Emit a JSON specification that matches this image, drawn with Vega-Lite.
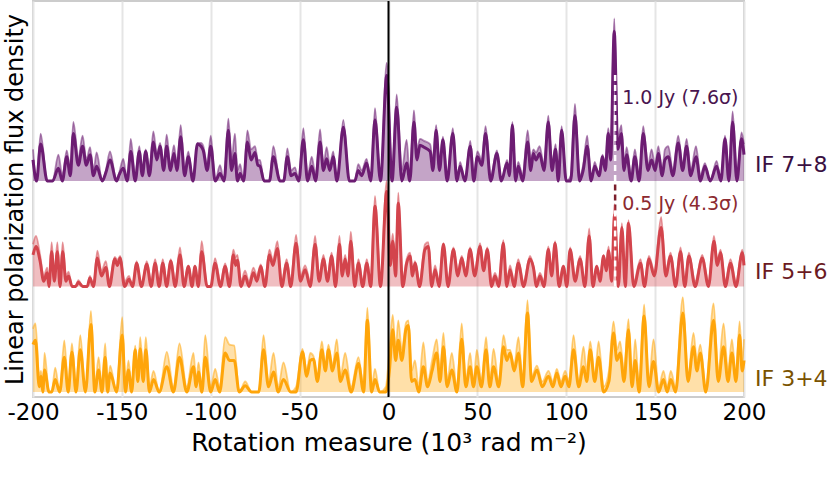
{
  "$schema": "https://vega.github.io/schema/vega-lite/v6.json",
  "width": 711,
  "height": 396,
  "autosize": {"type": "none"},
  "padding": {"left": 33, "top": 1, "right": 85, "bottom": 97},
  "data": {
    "values": [
      {"s":"p","x":-200,"v":0.2,"u":0.3},{"s":"p","x":-198,"v":0,"u":0},{"s":"p","x":-195.7,"v":0.35,"u":0.45},{"s":"p","x":-192,"v":0,"u":0},{"s":"p","x":-189,"v":0,"u":0},{"s":"p","x":-185.7,"v":0.12,"u":0.25},{"s":"p","x":-183.5,"v":0,"u":0.05},{"s":"p","x":-181,"v":0.23,"u":0.29},{"s":"p","x":-179,"v":0.05,"u":0.1},{"s":"p","x":-177.3,"v":0.45,"u":0.56},{"s":"p","x":-174.5,"v":0.15,"u":0.22},{"s":"p","x":-172.1,"v":0.33,"u":0.43},{"s":"p","x":-170,"v":0.15,"u":0.2},{"s":"p","x":-167.9,"v":0.25,"u":0.32},{"s":"p","x":-166,"v":0.05,"u":0.1},{"s":"p","x":-164.2,"v":0.14,"u":0.27},{"s":"p","x":-161,"v":0,"u":0},{"s":"p","x":-159,"v":0.08,"u":0.1},{"s":"p","x":-156.7,"v":0.2,"u":0.28},{"s":"p","x":-153,"v":0,"u":0},{"s":"p","x":-151.5,"v":0.06,"u":0.08},{"s":"p","x":-149.2,"v":0.12,"u":0.21},{"s":"p","x":-147,"v":0,"u":0},{"s":"p","x":-145,"v":0.28,"u":0.4},{"s":"p","x":-142.5,"v":0,"u":0.05},{"s":"p","x":-140.2,"v":0.28,"u":0.33},{"s":"p","x":-138.5,"v":0.05,"u":0.1},{"s":"p","x":-136.6,"v":0.28,"u":0.3},{"s":"p","x":-134.5,"v":0.05,"u":0.1},{"s":"p","x":-132.3,"v":0.37,"u":0.47},{"s":"p","x":-130.3,"v":0.2,"u":0.25},{"s":"p","x":-128.5,"v":0.33,"u":0.36},{"s":"p","x":-126.5,"v":0.1,"u":0.15},{"s":"p","x":-124.8,"v":0.33,"u":0.44},{"s":"p","x":-122.7,"v":0.1,"u":0.15},{"s":"p","x":-120.7,"v":0.26,"u":0.34},{"s":"p","x":-119,"v":0.1,"u":0.15},{"s":"p","x":-116.9,"v":0.42,"u":0.53},{"s":"p","x":-114.7,"v":0.05,"u":0.1},{"s":"p","x":-112.6,"v":0.23,"u":0.28},{"s":"p","x":-110,"v":0,"u":0},{"s":"p","x":-107.5,"v":0.35,"u":0.36},{"s":"p","x":-105.5,"v":0.33,"u":0.36},{"s":"p","x":-104.2,"v":0.29,"u":0.33},{"s":"p","x":-102,"v":0.1,"u":0.15},{"s":"p","x":-100,"v":0.33,"u":0.43},{"s":"p","x":-97.5,"v":0,"u":0},{"s":"p","x":-94.8,"v":0.07,"u":0.15},{"s":"p","x":-92.5,"v":0,"u":0},{"s":"p","x":-90.1,"v":0.48,"u":0.59},{"s":"p","x":-88.3,"v":0.1,"u":0.2},{"s":"p","x":-86.4,"v":0.26,"u":0.45},{"s":"p","x":-85,"v":0,"u":0.1},{"s":"p","x":-83.5,"v":0.07,"u":0.16},{"s":"p","x":-81.5,"v":0,"u":0},{"s":"p","x":-79.4,"v":0.37,"u":0.48},{"s":"p","x":-77.3,"v":0.2,"u":0.3},{"s":"p","x":-75.1,"v":0.27,"u":0.33},{"s":"p","x":-73.5,"v":0.15,"u":0.2},{"s":"p","x":-72.3,"v":0.14,"u":0.2},{"s":"p","x":-70,"v":0,"u":0},{"s":"p","x":-67,"v":0,"u":0},{"s":"p","x":-64.8,"v":0.23,"u":0.33},{"s":"p","x":-61,"v":0,"u":0},{"s":"p","x":-59,"v":0,"u":0},{"s":"p","x":-56.9,"v":0.23,"u":0.31},{"s":"p","x":-54.8,"v":0.05,"u":0.1},{"s":"p","x":-52.6,"v":0.07,"u":0.13},{"s":"p","x":-50.5,"v":0,"u":0},{"s":"p","x":-47.9,"v":0.39,"u":0.5},{"s":"p","x":-45.5,"v":0,"u":0.05},{"s":"p","x":-43.2,"v":0.14,"u":0.23},{"s":"p","x":-41,"v":0,"u":0.05},{"s":"p","x":-38.5,"v":0.37,"u":0.49},{"s":"p","x":-36.6,"v":0.1,"u":0.15},{"s":"p","x":-34.8,"v":0.21,"u":0.32},{"s":"p","x":-33,"v":0.1,"u":0.15},{"s":"p","x":-31.1,"v":0.23,"u":0.28},{"s":"p","x":-29,"v":0,"u":0},{"s":"p","x":-25.4,"v":0.51,"u":0.58},{"s":"p","x":-22,"v":0,"u":0},{"s":"p","x":-19,"v":0,"u":0},{"s":"p","x":-17,"v":0.1,"u":0.16},{"s":"p","x":-15.1,"v":0.05,"u":0.1},{"s":"p","x":-12.3,"v":0.17,"u":0.21},{"s":"p","x":-10,"v":0,"u":0},{"s":"p","x":-7.6,"v":0.58,"u":0.69},{"s":"p","x":-4.5,"v":0,"u":0},{"s":"p","x":-1,"v":1.0,"u":1.12},{"s":"p","x":2,"v":0,"u":0.05},{"s":"p","x":4.6,"v":0.7,"u":0.82},{"s":"p","x":7.5,"v":0,"u":0.1},{"s":"p","x":10.2,"v":0.17,"u":0.39},{"s":"p","x":12,"v":0,"u":0.05},{"s":"p","x":14.3,"v":0.56,"u":0.67},{"s":"p","x":16,"v":0.2,"u":0.3},{"s":"p","x":17.7,"v":0.34,"u":0.4},{"s":"p","x":20,"v":0.32,"u":0.38},{"s":"p","x":23.4,"v":0.28,"u":0.35},{"s":"p","x":25,"v":0.1,"u":0.2},{"s":"p","x":26.8,"v":0.48,"u":0.53},{"s":"p","x":28.7,"v":0.1,"u":0.15},{"s":"p","x":30.6,"v":0.39,"u":0.42},{"s":"p","x":33,"v":0,"u":0.05},{"s":"p","x":36.2,"v":0.45,"u":0.5},{"s":"p","x":38.5,"v":0,"u":0},{"s":"p","x":40.3,"v":0.14,"u":0.18},{"s":"p","x":43,"v":0,"u":0},{"s":"p","x":46,"v":0.33,"u":0.38},{"s":"p","x":48,"v":0,"u":0.05},{"s":"p","x":50,"v":0.23,"u":0.28},{"s":"p","x":52.5,"v":0.15,"u":0.2},{"s":"p","x":54.6,"v":0.45,"u":0.52},{"s":"p","x":57.5,"v":0,"u":0.05},{"s":"p","x":61,"v":0.26,"u":0.29},{"s":"p","x":63.5,"v":0,"u":0},{"s":"p","x":66.7,"v":0.17,"u":0.2},{"s":"p","x":68,"v":0.05,"u":0.1},{"s":"p","x":69.7,"v":0.53,"u":0.56},{"s":"p","x":71.5,"v":0,"u":0.05},{"s":"p","x":73,"v":0.14,"u":0.18},{"s":"p","x":75.5,"v":0,"u":0.05},{"s":"p","x":78.3,"v":0.37,"u":0.48},{"s":"p","x":80,"v":0.1,"u":0.2},{"s":"p","x":81.5,"v":0.26,"u":0.3},{"s":"p","x":83,"v":0.2,"u":0.27},{"s":"p","x":85,"v":0.26,"u":0.33},{"s":"p","x":87.5,"v":0.1,"u":0.15},{"s":"p","x":89.9,"v":0.56,"u":0.62},{"s":"p","x":92,"v":0.1,"u":0.15},{"s":"p","x":94,"v":0.3,"u":0.35},{"s":"p","x":95.5,"v":0,"u":0.05},{"s":"p","x":97.4,"v":0.48,"u":0.52},{"s":"p","x":100,"v":0,"u":0},{"s":"p","x":102.5,"v":0,"u":0.05},{"s":"p","x":104.9,"v":0.62,"u":0.73},{"s":"p","x":107.5,"v":0,"u":0.05},{"s":"p","x":109.5,"v":0.1,"u":0.15},{"s":"p","x":111.8,"v":0.33,"u":0.43},{"s":"p","x":114,"v":0,"u":0},{"s":"p","x":116,"v":0.14,"u":0.18},{"s":"p","x":118.5,"v":0.05,"u":0.05},{"s":"p","x":120.4,"v":0.23,"u":0.25},{"s":"p","x":122,"v":0.1,"u":0.15},{"s":"p","x":123.6,"v":0.45,"u":0.5},{"s":"p","x":125,"v":0.2,"u":0.3},{"s":"p","x":127,"v":1.42,"u":1.54},{"s":"p","x":129,"v":0.3,"u":0.4},{"s":"p","x":131,"v":0.45,"u":0.53},{"s":"p","x":132.5,"v":0.1,"u":0.15},{"s":"p","x":134,"v":0.25,"u":0.32},{"s":"p","x":136.5,"v":0,"u":0.05},{"s":"p","x":138.6,"v":0.23,"u":0.3},{"s":"p","x":141,"v":0,"u":0.05},{"s":"p","x":143.3,"v":0.45,"u":0.52},{"s":"p","x":146,"v":0.1,"u":0.15},{"s":"p","x":148,"v":0.2,"u":0.3},{"s":"p","x":150,"v":0.1,"u":0.15},{"s":"p","x":151.8,"v":0.26,"u":0.33},{"s":"p","x":154,"v":0.05,"u":0.1},{"s":"p","x":155.5,"v":0.2,"u":0.3},{"s":"p","x":157.4,"v":0.23,"u":0.33},{"s":"p","x":160,"v":0.05,"u":0.1},{"s":"p","x":163,"v":0.36,"u":0.43},{"s":"p","x":165.5,"v":0.1,"u":0.15},{"s":"p","x":167.7,"v":0.33,"u":0.4},{"s":"p","x":170,"v":0.05,"u":0.1},{"s":"p","x":173,"v":0.23,"u":0.33},{"s":"p","x":175.5,"v":0,"u":0.05},{"s":"p","x":178,"v":0.14,"u":0.17},{"s":"p","x":181,"v":0,"u":0},{"s":"p","x":184.6,"v":0.14,"u":0.19},{"s":"p","x":187,"v":0,"u":0},{"s":"p","x":189.3,"v":0.4,"u":0.43},{"s":"p","x":191.5,"v":0,"u":0.1},{"s":"p","x":193.6,"v":0.56,"u":0.66},{"s":"p","x":196,"v":0,"u":0.05},{"s":"p","x":198.6,"v":0.4,"u":0.46},{"s":"p","x":200,"v":0.25,"u":0.35},

      {"s":"r","x":-200,"v":0.3,"u":0.4},{"s":"r","x":-198.3,"v":0.38,"u":0.48},{"s":"r","x":-196,"v":0.24,"u":0.3},{"s":"r","x":-194,"v":0.05,"u":0.1},{"s":"r","x":-192,"v":0.13,"u":0.18},{"s":"r","x":-191,"v":0,"u":0.05},{"s":"r","x":-189.5,"v":0.33,"u":0.42},{"s":"r","x":-188,"v":0.05,"u":0.1},{"s":"r","x":-186.3,"v":0.33,"u":0.42},{"s":"r","x":-184.8,"v":0,"u":0.05},{"s":"r","x":-183.3,"v":0.33,"u":0.42},{"s":"r","x":-181.5,"v":0.05,"u":0.1},{"s":"r","x":-180,"v":0.1,"u":0.14},{"s":"r","x":-178,"v":0,"u":0},{"s":"r","x":-176,"v":0,"u":0},{"s":"r","x":-174.5,"v":0.04,"u":0.06},{"s":"r","x":-172,"v":0,"u":0},{"s":"r","x":-169.5,"v":0,"u":0},{"s":"r","x":-168,"v":0.08,"u":0.1},{"s":"r","x":-166,"v":0,"u":0},{"s":"r","x":-163.8,"v":0.27,"u":0.34},{"s":"r","x":-161.5,"v":0.1,"u":0.15},{"s":"r","x":-159,"v":0.18,"u":0.24},{"s":"r","x":-157,"v":0,"u":0.05},{"s":"r","x":-154,"v":0.26,"u":0.28},{"s":"r","x":-152.5,"v":0.2,"u":0.25},{"s":"r","x":-151,"v":0.27,"u":0.29},{"s":"r","x":-148.5,"v":0,"u":0.05},{"s":"r","x":-146,"v":0.07,"u":0.1},{"s":"r","x":-144,"v":0,"u":0},{"s":"r","x":-141.7,"v":0.22,"u":0.24},{"s":"r","x":-139,"v":0,"u":0},{"s":"r","x":-136,"v":0.21,"u":0.24},{"s":"r","x":-133.5,"v":0,"u":0.05},{"s":"r","x":-131.3,"v":0.22,"u":0.26},{"s":"r","x":-129,"v":0,"u":0.05},{"s":"r","x":-127,"v":0.22,"u":0.26},{"s":"r","x":-124.8,"v":0,"u":0.05},{"s":"r","x":-122.5,"v":0.24,"u":0.26},{"s":"r","x":-120,"v":0,"u":0.05},{"s":"r","x":-117.3,"v":0.3,"u":0.37},{"s":"r","x":-115,"v":0,"u":0.05},{"s":"r","x":-112.6,"v":0.19,"u":0.2},{"s":"r","x":-110.5,"v":0,"u":0.05},{"s":"r","x":-108.9,"v":0.19,"u":0.2},{"s":"r","x":-107,"v":0,"u":0.05},{"s":"r","x":-105.1,"v":0.33,"u":0.43},{"s":"r","x":-102,"v":0,"u":0},{"s":"r","x":-100,"v":0,"u":0},{"s":"r","x":-97.6,"v":0.22,"u":0.27},{"s":"r","x":-94.5,"v":0,"u":0.05},{"s":"r","x":-91.9,"v":0.19,"u":0.22},{"s":"r","x":-89.5,"v":0,"u":0.05},{"s":"r","x":-87.3,"v":0.3,"u":0.35},{"s":"r","x":-86,"v":0.2,"u":0.28},{"s":"r","x":-85,"v":0.25,"u":0.3},{"s":"r","x":-83,"v":0,"u":0.05},{"s":"r","x":-80.7,"v":0.1,"u":0.15},{"s":"r","x":-78.5,"v":0,"u":0.05},{"s":"r","x":-76,"v":0.13,"u":0.18},{"s":"r","x":-74,"v":0.05,"u":0.1},{"s":"r","x":-71.9,"v":0.19,"u":0.21},{"s":"r","x":-69.5,"v":0,"u":0.05},{"s":"r","x":-67,"v":0.3,"u":0.35},{"s":"r","x":-65,"v":0.2,"u":0.25},{"s":"r","x":-62.5,"v":0.36,"u":0.43},{"s":"r","x":-60,"v":0,"u":0.05},{"s":"r","x":-57.3,"v":0.22,"u":0.26},{"s":"r","x":-55,"v":0,"u":0.05},{"s":"r","x":-52,"v":0.41,"u":0.49},{"s":"r","x":-49.5,"v":0.05,"u":0.1},{"s":"r","x":-46.9,"v":0.16,"u":0.2},{"s":"r","x":-44,"v":0,"u":0.05},{"s":"r","x":-41.3,"v":0.4,"u":0.48},{"s":"r","x":-39,"v":0.05,"u":0.1},{"s":"r","x":-36.6,"v":0.26,"u":0.3},{"s":"r","x":-34.3,"v":0.05,"u":0.1},{"s":"r","x":-32,"v":0.29,"u":0.32},{"s":"r","x":-29.8,"v":0,"u":0.05},{"s":"r","x":-27.6,"v":0.4,"u":0.48},{"s":"r","x":-26,"v":0.1,"u":0.15},{"s":"r","x":-24.4,"v":0.26,"u":0.3},{"s":"r","x":-22.8,"v":0.1,"u":0.15},{"s":"r","x":-21.2,"v":0.43,"u":0.52},{"s":"r","x":-19,"v":0,"u":0.05},{"s":"r","x":-16.9,"v":0.22,"u":0.26},{"s":"r","x":-14.5,"v":0,"u":0.05},{"s":"r","x":-12.2,"v":0.22,"u":0.26},{"s":"r","x":-10,"v":0,"u":0.05},{"s":"r","x":-7.6,"v":0.76,"u":0.86},{"s":"r","x":-4.5,"v":0,"u":0.05},{"s":"r","x":-1,"v":0.9,"u":1.0},{"s":"r","x":1,"v":0.2,"u":0.3},{"s":"r","x":2.4,"v":0.43,"u":0.5},{"s":"r","x":4,"v":0.1,"u":0.2},{"s":"r","x":5.5,"v":0.79,"u":0.89},{"s":"r","x":8,"v":0,"u":0.05},{"s":"r","x":10.2,"v":0.22,"u":0.26},{"s":"r","x":12.1,"v":0.29,"u":0.32},{"s":"r","x":13.5,"v":0.1,"u":0.15},{"s":"r","x":14.9,"v":0.22,"u":0.24},{"s":"r","x":17.5,"v":0,"u":0.05},{"s":"r","x":20.5,"v":0.35,"u":0.4},{"s":"r","x":22.4,"v":0.38,"u":0.42},{"s":"r","x":24.3,"v":0,"u":0.05},{"s":"r","x":26.2,"v":0.16,"u":0.2},{"s":"r","x":28.5,"v":0,"u":0.05},{"s":"r","x":30.9,"v":0.4,"u":0.41},{"s":"r","x":33.5,"v":0,"u":0.05},{"s":"r","x":36.5,"v":0.35,"u":0.37},{"s":"r","x":39,"v":0.1,"u":0.15},{"s":"r","x":41.2,"v":0.27,"u":0.29},{"s":"r","x":43.5,"v":0.1,"u":0.15},{"s":"r","x":45.9,"v":0.35,"u":0.37},{"s":"r","x":48.5,"v":0.1,"u":0.15},{"s":"r","x":51.5,"v":0.38,"u":0.41},{"s":"r","x":53.5,"v":0.15,"u":0.2},{"s":"r","x":55.6,"v":0.35,"u":0.37},{"s":"r","x":58,"v":0,"u":0.05},{"s":"r","x":59.9,"v":0.1,"u":0.13},{"s":"r","x":62,"v":0,"u":0.05},{"s":"r","x":64.6,"v":0.41,"u":0.44},{"s":"r","x":66.5,"v":0,"u":0.05},{"s":"r","x":68.4,"v":0.16,"u":0.2},{"s":"r","x":70.7,"v":0,"u":0.05},{"s":"r","x":73,"v":0.22,"u":0.26},{"s":"r","x":76,"v":0,"u":0.05},{"s":"r","x":79.6,"v":0.26,"u":0.29},{"s":"r","x":81.5,"v":0.18,"u":0.2},{"s":"r","x":83.3,"v":0,"u":0.05},{"s":"r","x":85.2,"v":0.1,"u":0.13},{"s":"r","x":87.5,"v":0,"u":0.05},{"s":"r","x":89.9,"v":0.35,"u":0.38},{"s":"r","x":91.8,"v":0.1,"u":0.15},{"s":"r","x":93.7,"v":0.41,"u":0.43},{"s":"r","x":96,"v":0,"u":0.05},{"s":"r","x":98.4,"v":0.19,"u":0.2},{"s":"r","x":100.3,"v":0,"u":0.05},{"s":"r","x":102.2,"v":0.35,"u":0.37},{"s":"r","x":105,"v":0.05,"u":0.1},{"s":"r","x":107.8,"v":0.26,"u":0.29},{"s":"r","x":110.5,"v":0,"u":0.05},{"s":"r","x":112.9,"v":0.48,"u":0.55},{"s":"r","x":115,"v":0,"u":0.05},{"s":"r","x":117.2,"v":0.19,"u":0.2},{"s":"r","x":119,"v":0.05,"u":0.1},{"s":"r","x":121,"v":0.29,"u":0.3},{"s":"r","x":122.5,"v":0.15,"u":0.2},{"s":"r","x":123.8,"v":0.34,"u":0.38},{"s":"r","x":125.5,"v":0.05,"u":0.1},{"s":"r","x":127.2,"v":0.68,"u":0.78},{"s":"r","x":129.3,"v":0,"u":0.05},{"s":"r","x":131.3,"v":0.56,"u":0.6},{"s":"r","x":133.2,"v":0,"u":0.05},{"s":"r","x":135,"v":0.6,"u":0.63},{"s":"r","x":138,"v":0,"u":0.05},{"s":"r","x":141.8,"v":0.22,"u":0.26},{"s":"r","x":144,"v":0,"u":0.05},{"s":"r","x":146.5,"v":0.26,"u":0.29},{"s":"r","x":149.5,"v":0.1,"u":0.15},{"s":"r","x":153.4,"v":0.56,"u":0.66},{"s":"r","x":156,"v":0.1,"u":0.15},{"s":"r","x":158.7,"v":0.29,"u":0.32},{"s":"r","x":161.5,"v":0,"u":0.05},{"s":"r","x":164.3,"v":0.33,"u":0.37},{"s":"r","x":166.7,"v":0,"u":0.05},{"s":"r","x":169,"v":0.29,"u":0.32},{"s":"r","x":172.5,"v":0,"u":0.05},{"s":"r","x":176.5,"v":0.27,"u":0.3},{"s":"r","x":180,"v":0,"u":0.05},{"s":"r","x":183.1,"v":0.43,"u":0.48},{"s":"r","x":185,"v":0.2,"u":0.25},{"s":"r","x":186.8,"v":0.32,"u":0.35},{"s":"r","x":189.5,"v":0,"u":0.05},{"s":"r","x":192.4,"v":0.22,"u":0.26},{"s":"r","x":195.5,"v":0,"u":0.05},{"s":"r","x":199,"v":0.32,"u":0.35},{"s":"r","x":200,"v":0.2,"u":0.25},

      {"s":"o","x":-200,"v":0.45,"u":0.6},{"s":"o","x":-198.6,"v":0.49,"u":0.65},{"s":"o","x":-196.5,"v":0.05,"u":0.15},{"s":"o","x":-195.5,"v":0.15,"u":0.2},{"s":"o","x":-194.5,"v":0,"u":0.05},{"s":"o","x":-193.5,"v":0.21,"u":0.37},{"s":"o","x":-191,"v":0,"u":0},{"s":"o","x":-189.5,"v":0,"u":0},{"s":"o","x":-187.5,"v":0.12,"u":0.23},{"s":"o","x":-185,"v":0,"u":0},{"s":"o","x":-182.4,"v":0.33,"u":0.49},{"s":"o","x":-180.2,"v":0,"u":0.05},{"s":"o","x":-178.1,"v":0.38,"u":0.46},{"s":"o","x":-175.8,"v":0,"u":0.05},{"s":"o","x":-173.4,"v":0.4,"u":0.54},{"s":"o","x":-170.5,"v":0,"u":0},{"s":"o","x":-167.4,"v":0.64,"u":0.77},{"s":"o","x":-165.2,"v":0,"u":0.05},{"s":"o","x":-163.1,"v":0.21,"u":0.33},{"s":"o","x":-161.2,"v":0,"u":0.05},{"s":"o","x":-159.4,"v":0.33,"u":0.46},{"s":"o","x":-158,"v":0,"u":0.05},{"s":"o","x":-156.6,"v":0.18,"u":0.25},{"s":"o","x":-153,"v":0,"u":0},{"s":"o","x":-149.8,"v":0.54,"u":0.71},{"s":"o","x":-148,"v":0,"u":0.05},{"s":"o","x":-146.3,"v":0.21,"u":0.3},{"s":"o","x":-144.5,"v":0,"u":0.05},{"s":"o","x":-142.5,"v":0.4,"u":0.44},{"s":"o","x":-141,"v":0.1,"u":0.15},{"s":"o","x":-139.7,"v":0.41,"u":0.52},{"s":"o","x":-138,"v":0.1,"u":0.2},{"s":"o","x":-136.5,"v":0.4,"u":0.52},{"s":"o","x":-134.5,"v":0,"u":0.05},{"s":"o","x":-132.2,"v":0.12,"u":0.2},{"s":"o","x":-129,"v":0,"u":0},{"s":"o","x":-124.7,"v":0.24,"u":0.38},{"s":"o","x":-121,"v":0,"u":0.05},{"s":"o","x":-117.6,"v":0.33,"u":0.46},{"s":"o","x":-113.5,"v":0,"u":0.05},{"s":"o","x":-109.7,"v":0.24,"u":0.37},{"s":"o","x":-108.2,"v":0.05,"u":0.1},{"s":"o","x":-106.9,"v":0.19,"u":0.28},{"s":"o","x":-105,"v":0,"u":0.05},{"s":"o","x":-103.1,"v":0.33,"u":0.54},{"s":"o","x":-100,"v":0,"u":0.05},{"s":"o","x":-97.5,"v":0.12,"u":0.22},{"s":"o","x":-95,"v":0,"u":0.05},{"s":"o","x":-91.9,"v":0.37,"u":0.52},{"s":"o","x":-89.5,"v":0.3,"u":0.45},{"s":"o","x":-86.8,"v":0.3,"u":0.44},{"s":"o","x":-84,"v":0,"u":0},{"s":"o","x":-80.6,"v":0.06,"u":0.1},{"s":"o","x":-77,"v":0,"u":0},{"s":"o","x":-73,"v":0,"u":0},{"s":"o","x":-70.3,"v":0.4,"u":0.54},{"s":"o","x":-67.5,"v":0.05,"u":0.1},{"s":"o","x":-64.7,"v":0.19,"u":0.37},{"s":"o","x":-62,"v":0,"u":0.05},{"s":"o","x":-59.1,"v":0.12,"u":0.28},{"s":"o","x":-55,"v":0,"u":0},{"s":"o","x":-52,"v":0,"u":0.05},{"s":"o","x":-48.4,"v":0.38,"u":0.41},{"s":"o","x":-46,"v":0.15,"u":0.2},{"s":"o","x":-44,"v":0.3,"u":0.37},{"s":"o","x":-42.2,"v":0.31,"u":0.34},{"s":"o","x":-40,"v":0.1,"u":0.15},{"s":"o","x":-37.5,"v":0.4,"u":0.48},{"s":"o","x":-35.5,"v":0.2,"u":0.25},{"s":"o","x":-33.8,"v":0.4,"u":0.45},{"s":"o","x":-31.5,"v":0.2,"u":0.25},{"s":"o","x":-29.1,"v":0.37,"u":0.5},{"s":"o","x":-27,"v":0.1,"u":0.15},{"s":"o","x":-24.4,"v":0.21,"u":0.37},{"s":"o","x":-21,"v":0,"u":0.05},{"s":"o","x":-16.9,"v":0.27,"u":0.33},{"s":"o","x":-14,"v":0,"u":0.05},{"s":"o","x":-11.9,"v":0.68,"u":0.8},{"s":"o","x":-9.5,"v":0,"u":0.05},{"s":"o","x":-7.6,"v":0.12,"u":0.22},{"s":"o","x":-5,"v":0,"u":0},{"s":"o","x":-1.5,"v":0,"u":0.05},{"s":"o","x":0.5,"v":0.2,"u":0.4},{"s":"o","x":2.4,"v":0.59,"u":0.73},{"s":"o","x":4,"v":0.3,"u":0.4},{"s":"o","x":5.5,"v":0.49,"u":0.68},{"s":"o","x":7.5,"v":0.3,"u":0.4},{"s":"o","x":9.9,"v":0.6,"u":0.66},{"s":"o","x":11.2,"v":0.63,"u":0.68},{"s":"o","x":13,"v":0.1,"u":0.2},{"s":"o","x":14.9,"v":0.12,"u":0.3},{"s":"o","x":17,"v":0,"u":0.05},{"s":"o","x":19.6,"v":0.24,"u":0.47},{"s":"o","x":22,"v":0.05,"u":0.1},{"s":"o","x":24.5,"v":0.2,"u":0.3},{"s":"o","x":27.1,"v":0.37,"u":0.5},{"s":"o","x":29,"v":0.1,"u":0.2},{"s":"o","x":30.9,"v":0.43,"u":0.56},{"s":"o","x":33,"v":0.05,"u":0.1},{"s":"o","x":35.6,"v":0.21,"u":0.37},{"s":"o","x":38.5,"v":0,"u":0.05},{"s":"o","x":41.2,"v":0.5,"u":0.65},{"s":"o","x":43.5,"v":0.05,"u":0.1},{"s":"o","x":45.9,"v":0.24,"u":0.37},{"s":"o","x":47.8,"v":0.05,"u":0.1},{"s":"o","x":49.7,"v":0.24,"u":0.4},{"s":"o","x":52.3,"v":0.05,"u":0.1},{"s":"o","x":54.9,"v":0.4,"u":0.52},{"s":"o","x":57,"v":0.05,"u":0.1},{"s":"o","x":59.1,"v":0.24,"u":0.41},{"s":"o","x":62,"v":0.05,"u":0.1},{"s":"o","x":64.7,"v":0.43,"u":0.54},{"s":"o","x":66.5,"v":0.3,"u":0.4},{"s":"o","x":68.4,"v":0.37,"u":0.4},{"s":"o","x":70.7,"v":0.2,"u":0.25},{"s":"o","x":73.1,"v":0.37,"u":0.52},{"s":"o","x":75.5,"v":0.05,"u":0.1},{"s":"o","x":78.2,"v":0.75,"u":0.87},{"s":"o","x":80.5,"v":0.1,"u":0.15},{"s":"o","x":83.5,"v":0.21,"u":0.25},{"s":"o","x":86.5,"v":0.05,"u":0.1},{"s":"o","x":90,"v":0.15,"u":0.2},{"s":"o","x":92.5,"v":0.05,"u":0.1},{"s":"o","x":94.7,"v":0.18,"u":0.22},{"s":"o","x":97,"v":0.05,"u":0.1},{"s":"o","x":99.4,"v":0.15,"u":0.2},{"s":"o","x":101.5,"v":0.05,"u":0.1},{"s":"o","x":104.1,"v":0.4,"u":0.54},{"s":"o","x":107,"v":0.05,"u":0.1},{"s":"o","x":109.7,"v":0.24,"u":0.43},{"s":"o","x":111.5,"v":0.1,"u":0.2},{"s":"o","x":113.5,"v":0.4,"u":0.48},{"s":"o","x":116,"v":0.1,"u":0.15},{"s":"o","x":118.2,"v":0.33,"u":0.48},{"s":"o","x":121,"v":0,"u":0.05},{"s":"o","x":124,"v":0.1,"u":0.2},{"s":"o","x":126.6,"v":0.56,"u":0.67},{"s":"o","x":128.5,"v":0.3,"u":0.4},{"s":"o","x":130.3,"v":0.37,"u":0.48},{"s":"o","x":132.5,"v":0.1,"u":0.2},{"s":"o","x":135,"v":0.59,"u":0.69},{"s":"o","x":137,"v":0.05,"u":0.1},{"s":"o","x":138.8,"v":0.3,"u":0.5},{"s":"o","x":141,"v":0,"u":0.05},{"s":"o","x":143.8,"v":0.72,"u":0.83},{"s":"o","x":146.5,"v":0.05,"u":0.1},{"s":"o","x":149.1,"v":0.29,"u":0.5},{"s":"o","x":152,"v":0,"u":0.05},{"s":"o","x":154.7,"v":0.12,"u":0.2},{"s":"o","x":156.8,"v":0,"u":0.05},{"s":"o","x":158.8,"v":0.12,"u":0.2},{"s":"o","x":161.5,"v":0,"u":0.05},{"s":"o","x":165.6,"v":0.75,"u":0.9},{"s":"o","x":168.5,"v":0.1,"u":0.15},{"s":"o","x":171.6,"v":0.43,"u":0.56},{"s":"o","x":173.5,"v":0.2,"u":0.3},{"s":"o","x":175.4,"v":0.37,"u":0.45},{"s":"o","x":178.5,"v":0,"u":0.05},{"s":"o","x":182.9,"v":0.68,"u":0.84},{"s":"o","x":185.5,"v":0.1,"u":0.2},{"s":"o","x":188.5,"v":0.43,"u":0.65},{"s":"o","x":191,"v":0.1,"u":0.2},{"s":"o","x":193.2,"v":0.37,"u":0.5},{"s":"o","x":195.5,"v":0.1,"u":0.15},{"s":"o","x":197.5,"v":0.54,"u":0.67},{"s":"o","x":199,"v":0.2,"u":0.3},{"s":"o","x":200,"v":0.3,"u":0.5}
    ]
  },
  "encoding": {
    "x": {
      "field": "x",
      "type": "quantitative",
      "scale": {"domain": [-200, 200], "nice": false, "zero": false},
      "axis": {
        "values": [-200, -150, -100, -50, 0, 50, 100, 150, 200],
        "labelExpr": "'' + datum.value",
        "title": "Rotation measure (10³ rad m⁻²)",
        "grid": true,
        "gridColor": "#e5e5e5",
        "gridWidth": 2,
        "ticks": false,
        "domain": false,
        "labelFontSize": 23,
        "labelPadding": 4,
        "labelColor": "black",
        "labelFlush": false,
        "titleFontSize": 25,
        "titleFontWeight": "normal",
        "titleColor": "black",
        "titlePadding": 6
      }
    }
  },
  "layer": [
    {
      "transform": [{"filter": "datum.s == 'o'"}],
      "layer": [
        {
          "mark": {"type": "area", "color": "#ffa50a", "opacity": 0.35, "interpolate": "monotone"},
          "encoding": {
            "y": {"field": "u", "type": "quantitative", "stack": null, "scale": {"domain": [-0.047, 3.706], "nice": false, "zero": false},
              "axis": {"title": "Linear polarization flux density", "labels": false, "ticks": false, "domain": false, "grid": false, "titleFontSize": 24, "titleFontWeight": "normal", "titleColor": "black", "titlePadding": 6}},
            "y2": {"datum": 0}
          }
        },
        {
          "mark": {"type": "line", "color": "#ffa50a", "opacity": 0.5, "strokeWidth": 1.8, "interpolate": "monotone"},
          "encoding": {"y": {"field": "u", "type": "quantitative", "scale": {"domain": [-0.047, 3.706], "nice": false, "zero": false},
            "axis": {"title": "Linear polarization flux density", "labels": false, "ticks": false, "domain": false, "grid": false, "titleFontSize": 24, "titleFontWeight": "normal", "titleColor": "black", "titlePadding": 6}}}
        },
        {
          "mark": {"type": "line", "color": "#ffa50a", "strokeWidth": 3, "interpolate": "monotone"},
          "encoding": {"y": {"field": "v", "type": "quantitative", "scale": {"domain": [-0.047, 3.706], "nice": false, "zero": false},
            "axis": {"title": "Linear polarization flux density", "labels": false, "ticks": false, "domain": false, "grid": false, "titleFontSize": 24, "titleFontWeight": "normal", "titleColor": "black", "titlePadding": 6}}}
        },
        {
          "data": {"values": [{"x": 200, "y": 0.12, "t": "IF 3+4"}]},
          "mark": {"type": "text", "align": "left", "baseline": "middle", "dx": 11, "fontSize": 22, "color": "#7a5200"},
          "encoding": {"text": {"field": "t"}, "y": {"field": "y", "type": "quantitative", "scale": {"domain": [-0.047, 3.706], "nice": false, "zero": false},
            "axis": {"title": "Linear polarization flux density", "labels": false, "ticks": false, "domain": false, "grid": false, "titleFontSize": 24, "titleFontWeight": "normal", "titleColor": "black", "titlePadding": 6}}}
        }
      ]
    },
    {
      "transform": [{"filter": "datum.s == 'r'"}],
      "layer": [
        {
          "data": {"values": [{"x": 127.5, "y": 0.72, "y2": 1.0}]},
          "mark": {"type": "rule", "color": "#7b1e2b", "strokeWidth": 2.5, "strokeDash": [6, 4]},
          "encoding": {"y": {"field": "y", "type": "quantitative", "scale": {"domain": [-1.047, 2.706], "nice": false, "zero": false}, "axis": null}, "y2": {"field": "y2"}}
        },
        {
          "mark": {"type": "area", "color": "#d3444c", "opacity": 0.35, "interpolate": "monotone"},
          "encoding": {
            "y": {"field": "u", "type": "quantitative", "stack": null, "scale": {"domain": [-1.047, 2.706], "nice": false, "zero": false}, "axis": null},
            "y2": {"datum": 0}
          }
        },
        {
          "mark": {"type": "line", "color": "#d3444c", "opacity": 0.5, "strokeWidth": 1.8, "interpolate": "monotone"},
          "encoding": {"y": {"field": "u", "type": "quantitative", "scale": {"domain": [-1.047, 2.706], "nice": false, "zero": false}, "axis": null}}
        },
        {
          "mark": {"type": "line", "color": "#d3444c", "strokeWidth": 3, "interpolate": "monotone"},
          "encoding": {"y": {"field": "v", "type": "quantitative", "scale": {"domain": [-1.047, 2.706], "nice": false, "zero": false}, "axis": null}}
        },
        {
          "data": {"values": [{"x": 127.5, "y": 0, "y2": 0.72}]},
          "mark": {"type": "rule", "color": "white", "strokeWidth": 2.5, "strokeDash": [6, 4]},
          "encoding": {"y": {"field": "y", "type": "quantitative", "scale": {"domain": [-1.047, 2.706], "nice": false, "zero": false}, "axis": null}, "y2": {"field": "y2"}}
        },
        {
          "data": {"values": [{"x": 131.5, "y": 0.78, "t": "0.5 Jy (4.3σ)"}]},
          "mark": {"type": "text", "align": "left", "baseline": "middle", "fontSize": 19, "color": "#8c2a30"},
          "encoding": {"text": {"field": "t"}, "y": {"field": "y", "type": "quantitative", "scale": {"domain": [-1.047, 2.706], "nice": false, "zero": false}, "axis": null}}
        },
        {
          "data": {"values": [{"x": 200, "y": 0.14, "t": "IF 5+6"}]},
          "mark": {"type": "text", "align": "left", "baseline": "middle", "dx": 11, "fontSize": 22, "color": "#6b1a22"},
          "encoding": {"text": {"field": "t"}, "y": {"field": "y", "type": "quantitative", "scale": {"domain": [-1.047, 2.706], "nice": false, "zero": false}, "axis": null}}
        }
      ]
    },
    {
      "transform": [{"filter": "datum.s == 'p'"}],
      "layer": [
        {
          "mark": {"type": "area", "color": "#6c1c72", "opacity": 0.4, "interpolate": "monotone"},
          "encoding": {
            "y": {"field": "u", "type": "quantitative", "stack": null, "scale": {"domain": [-2.047, 1.706], "nice": false, "zero": false}, "axis": null},
            "y2": {"datum": 0}
          }
        },
        {
          "mark": {"type": "line", "color": "#6c1c72", "opacity": 0.5, "strokeWidth": 1.8, "interpolate": "monotone"},
          "encoding": {"y": {"field": "u", "type": "quantitative", "scale": {"domain": [-2.047, 1.706], "nice": false, "zero": false}, "axis": null}}
        },
        {
          "mark": {"type": "line", "color": "#6c1c72", "strokeWidth": 3, "interpolate": "monotone"},
          "encoding": {"y": {"field": "v", "type": "quantitative", "scale": {"domain": [-2.047, 1.706], "nice": false, "zero": false}, "axis": null}}
        },
        {
          "data": {"values": [{"x": 127.5, "y": 0, "y2": 1.02}]},
          "mark": {"type": "rule", "color": "white", "strokeWidth": 2.5, "strokeDash": [6, 4]},
          "encoding": {"y": {"field": "y", "type": "quantitative", "scale": {"domain": [-2.047, 1.706], "nice": false, "zero": false}, "axis": null}, "y2": {"field": "y2"}}
        },
        {
          "data": {"values": [{"x": 131.5, "y": 0.79, "t": "1.0 Jy (7.6σ)"}]},
          "mark": {"type": "text", "align": "left", "baseline": "middle", "fontSize": 19, "color": "#4a154f"},
          "encoding": {"text": {"field": "t"}, "y": {"field": "y", "type": "quantitative", "scale": {"domain": [-2.047, 1.706], "nice": false, "zero": false}, "axis": null}}
        },
        {
          "data": {"values": [{"x": 200, "y": 0.15, "t": "IF 7+8"}]},
          "mark": {"type": "text", "align": "left", "baseline": "middle", "dx": 11, "fontSize": 22, "color": "#3a0f42"},
          "encoding": {"text": {"field": "t"}, "y": {"field": "y", "type": "quantitative", "scale": {"domain": [-2.047, 1.706], "nice": false, "zero": false}, "axis": null}}
        }
      ]
    },
    {
      "data": {"values": [{"x": 0}]},
      "mark": {"type": "rule", "color": "black", "strokeWidth": 2},
      "encoding": {}
    }
  ],
  "resolve": {"scale": {"y": "independent"}},
  "config": {
    "font": "DejaVu Sans",
    "view": {"stroke": "#cccccc", "strokeWidth": 2},
    "text": {"font": "DejaVu Sans"}
  }
}
